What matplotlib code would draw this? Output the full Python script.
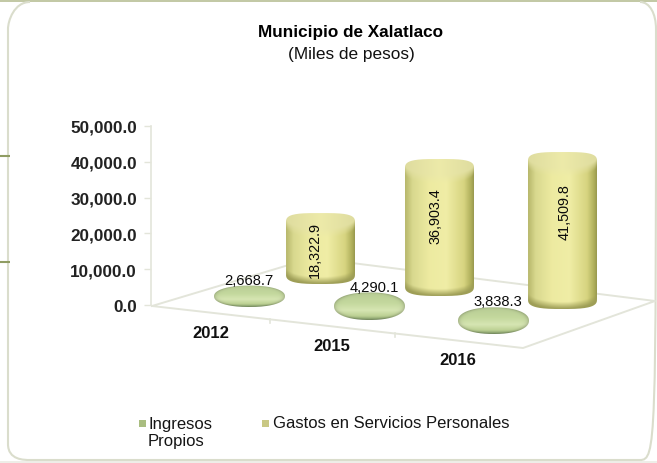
import numpy as np
import matplotlib
matplotlib.use("Agg")
import matplotlib.pyplot as plt
from matplotlib.patches import PathPatch, Rectangle
from matplotlib.path import Path

categories = ["2012", "2015", "2016"]
ingresos = [2668.7, 4290.1, 3838.3]
gastos = [18322.9, 36903.4, 41509.8]
axis_ticks = [0, 10000, 20000, 30000, 40000, 50000]
title_lines = ["Municipio de Xalatlaco", "(Miles de pesos)"]
legend_names = ["Ingresos\nPropios", "Gastos en Servicios Personales"]

# layout (pixels)
W, H = 657, 464
scale_px = [2.78, 3.17, 3.30]      # perspective: px per 1000 at each depth
cyl_left = [286, 405, 528]
cyl_bottom = [285, 297, 310]
disc_left = [214, 334, 458]
disc_bottom = [308, 321, 335]
cat_xy = [(211, 334), (332, 347), (458, 361)]
inc_label_xy = [(249, 281), (374, 288), (498, 302)]
gas_label_xy = [(315, 250), (435, 216), (565, 212)]

plt.rcParams["font.family"] = ["Liberation Sans", "DejaVu Sans"]
fig = plt.figure(figsize=(W / 100, H / 100), dpi=100, facecolor="white")

px = fig.add_axes([0, 0, 1, 1], zorder=2)
px.set_xlim(0, W)
px.set_ylim(H, 0)
px.axis("off")

# card and decorations
px.add_patch(Rectangle((0, 0), W, 2.5, fc="#c3c9a6", ec="none"))
px.add_patch(Rectangle((0, 461.5), W, 3, fc="#eeeee8", ec="none"))
card = Path([(30, 3), (14, 3), (8, 22), (8, 30), (8, 445), (8, 461), (24, 461), (30, 461),
             (640, 461), (656, 461), (656, 445), (656, 30), (656, 15), (650, 3), (640, 3)],
            [Path.MOVETO, Path.CURVE4, Path.CURVE4, Path.CURVE4, Path.LINETO, Path.CURVE4, Path.CURVE4, Path.CURVE4,
             Path.LINETO, Path.CURVE4, Path.CURVE4, Path.LINETO, Path.CURVE4, Path.CURVE4, Path.CURVE4])
px.add_patch(PathPatch(card, fc="none", ec="#dadDcc", lw=1.5))
for yy in (157, 263):
    px.plot([0, 10], [yy, yy], color="#8f9c62", lw=1.5, solid_capstyle="butt")

# floor
floor_c = "#e3e5da"
px.plot([152, 523, 655, 312, 152], [307, 349, 302, 259, 307], color=floor_c, lw=1.4, zorder=1)
for xx, yy in [(270, 321), (395, 335)]:
    px.plot([xx, xx], [yy - 1, yy + 3], color=floor_c, lw=1.2, zorder=1)


def outline(left, width, top_c, bot_c, b, n_top, n_bot):
    a = width / 2
    cx = left + a
    t = np.linspace(0, np.pi, 80)
    c, sn = np.cos(t), np.sin(t)
    xt = a * np.sign(c) * np.abs(c) ** (2 / n_top)
    yt = b * np.abs(sn) ** (2 / n_top)
    xb = a * np.sign(c) * np.abs(c) ** (2 / n_bot)
    yb = b * np.abs(sn) ** (2 / n_bot)
    vx = np.r_[cx + xt, cx - xb]
    vy = np.r_[top_c - yt, bot_c + yb]
    return Path(np.c_[vx, vy], closed=False)


def solid(left, width, top_c, bot_c, b, stops, cap, dark, zorder):
    top = top_c - b
    bot = bot_c + b
    ny = max(int((bot - top) * 2), 4)
    nx = int(width * 2)
    u = np.linspace(-1, 1, nx)
    yy = np.linspace(top, bot, ny)
    U, Y = np.meshgrid(u, yy)
    pos, cols = stops
    cols = np.array(cols)
    rgb = np.stack([np.interp(U, pos, cols[:, i]) for i in range(3)], axis=-1)
    root = np.sqrt(np.clip(1 - U ** 2, 0, 1))
    cap_edge = top_c + b * root
    m = np.clip((cap_edge - Y) / 9 + 0.5, 0, 1)[..., None]
    rgb = rgb * (1 - m) + np.array(cap) * (0.96 + 0.06 * (1 - np.abs(U))[..., None]) * m
    floor_edge = bot_c + b * root
    k = np.clip(1 - (floor_edge - Y) / 7, 0, 1)[..., None]
    rgb = rgb * (1 - k) + np.array(dark) * k
    im = px.imshow(np.clip(rgb, 0, 1), extent=(left, left + width, bot, top), origin="upper",
                   aspect="auto", zorder=zorder, interpolation="bilinear")
    im.set_clip_path(PathPatch(outline(left, width, top_c, bot_c, b, 3.4, 3.0), transform=px.transData))


def lens(left, width, top_c, bot_c, b, zorder):
    """Flat disc: an ellipse with a light top and a dark lower rim."""
    top = top_c - b
    bot = bot_c + b
    cy = (top + bot) / 2
    bb = (bot - top) / 2
    u = np.linspace(-1, 1, int(width * 2))
    yy = np.linspace(top, bot, int((bot - top) * 4))
    U, Y = np.meshgrid(u, yy)
    v = (Y - cy) / bb
    pos = [-1, -0.2, 0.3, 0.72, 1]
    cols = np.array([(.72, .80, .58), (.77, .85, .62), (.84, .90, .70), (.74, .82, .58), (.50, .60, .40)])
    rgb = np.stack([np.interp(v, pos, cols[:, i]) for i in range(3)], axis=-1)
    r = np.clip(U ** 2 + v ** 2, 0, 1)[..., None]
    rgb = rgb * (1 - 0.18 * r ** 8)
    im = px.imshow(np.clip(rgb, 0, 1), extent=(left, left + width, bot, top), origin="upper",
                   aspect="auto", zorder=zorder, interpolation="bilinear")
    im.set_clip_path(PathPatch(outline(left, width, cy, cy, bb, 2.2, 2.2), transform=px.transData))


yellow = ([-1, -0.78, -0.3, 0.2, 0.72, 0.93, 1],
          [(.72, .72, .42), (.85, .85, .56), (.93, .92, .63), (.94, .93, .65), (.84, .83, .50), (.68, .68, .35), (.60, .60, .31)])

for i, cat in enumerate(categories):
    s = scale_px[i] / 1000
    # yellow columns
    b = 10
    bot_c = cyl_bottom[i] - b
    top_c = bot_c - gastos[i] * s
    solid(cyl_left[i], 69, top_c, bot_c, b, yellow, (.91, .90, .65), (.62, .62, .34), 3)
    xx, yy = gas_label_xy[i]
    px.text(xx, yy, f"{gastos[i]:,.1f}", rotation=90, ha="center", va="center",
            fontsize=10.4, color="#0a0a0a", zorder=5)
    # green discs
    b = 7
    bot_c = disc_bottom[i] - b
    top_c = bot_c - ingresos[i] * s
    lens(disc_left[i], 71, top_c, bot_c, b, 4)
    xx, yy = inc_label_xy[i]
    px.text(xx, yy, f"{ingresos[i]:,.1f}", ha="center", va="center", fontsize=10.6, color="#0a0a0a", zorder=5)
    xx, yy = cat_xy[i]
    px.text(xx, yy, cat, ha="center", va="center", fontsize=12, fontweight="bold", color="#111111")

px.set_xlim(0, W)
px.set_ylim(H, 0)

# titles
px.text(351, 33, title_lines[0], ha="center", va="center", fontsize=12.3, fontweight="bold", color="black")
px.text(351, 54, title_lines[1], ha="center", va="center", fontsize=12.4, color="#111111")

# legend
for (xm, yl, col), name in zip([(142, 424, "#a9bd80"), (265, 424, "#c9c884")], legend_names):
    px.add_patch(Rectangle((xm - 3.5, yl - 3.5), 7, 7, fc=col, ec="none"))
px.text(148, 433, legend_names[0], ha="left", va="center", fontsize=12, color="#151515", linespacing=1.1)
px.text(273, 424, legend_names[1], ha="left", va="center", fontsize=12, color="#151515")

# value axis
ax = fig.add_axes([151 / W, 1 - 306 / H, 120 / W, 179 / H], zorder=1)
ax.patch.set_visible(False)
ax.set_ylim(0, 50000)
ax.set_xticks([])
ax.set_yticks(axis_ticks)
ax.set_yticklabels([f"{v:,.1f}" for v in axis_ticks], fontsize=12.3, fontweight="bold", color="#222222")
for sp in ("top", "right", "bottom"):
    ax.spines[sp].set_visible(False)
ax.spines["left"].set_color(floor_c)
ax.spines["left"].set_linewidth(1.2)
ax.tick_params(axis="y", length=5, width=1, color=floor_c, pad=5)

fig.savefig("out.png", dpi=100)
